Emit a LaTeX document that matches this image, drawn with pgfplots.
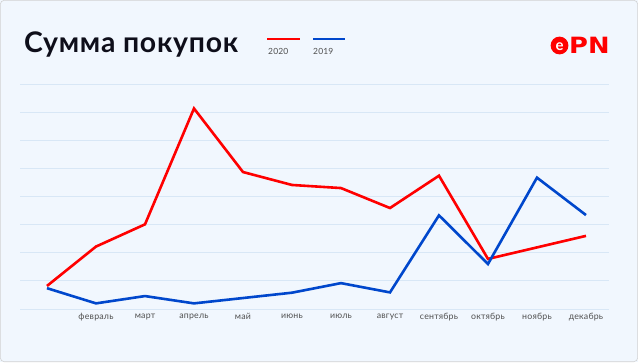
\documentclass[border=0pt]{standalone}
\usepackage{pgfplots}
\pgfplotsset{compat=1.18}
\usepackage{fontspec}
\setmainfont{Lato}
\newfontfamily\logofont{DejaVu Sans}
\definecolor{bg}{HTML}{F1F7FE}
\definecolor{gridc}{HTML}{D8E7F6}
\definecolor{red20}{HTML}{FF0000}
\definecolor{blue19}{HTML}{0047CC}
\definecolor{lbl}{HTML}{505050}
\definecolor{ttl}{HTML}{0E0E1A}
\begin{document}
\begin{tikzpicture}[x=1bp,y=1bp]
\fill[bg] (0,0) rectangle (638,362);
\draw[gray!35, line width=0.6bp, rounded corners=4bp] (0.3,0.3) rectangle (637.7,361.7);
\node[anchor=base west, font=\bfseries\fontsize{28.5}{28.5}\selectfont\addfontfeatures{LetterSpace=2.5}, text=ttl, inner sep=0] at (24,310) {Сумма покупок};
\draw[red20, line width=2.6bp] (267,323) -- (300,323);
\draw[blue19, line width=2.6bp] (313,323) -- (345,323);
\node[anchor=base west, font=\fontsize{8.5}{8.5}\selectfont\addfontfeatures{LetterSpace=2}, text=lbl, inner sep=0] at (268,307.5) {2020};
\node[anchor=base west, font=\fontsize{8.5}{8.5}\selectfont\addfontfeatures{LetterSpace=2}, text=lbl, inner sep=0] at (313,307.5) {2019};
\fill[red20] (559.5,316.5) circle (8.9);
\node[font=\bfseries\fontsize{15}{15}\selectfont, text=white, inner sep=0] at (559.5,315.8) {e};
\node[anchor=base west, font=\logofont\bfseries\fontsize{22.5}{22.5}\selectfont, text=red20, inner sep=0] at (569,309) {\scalebox{1.15}[1]{PN}};
\begin{axis}[
  at={(20bp,53bp)}, anchor=south west,
  scale only axis, width=589bp, height=225bp,
  xmin=-0.551, xmax=11.47, ymin=0, ymax=8,
  ytick={0,...,8}, yticklabels={},
  ymajorgrids, grid style={gridc, line width=0.8bp},
  axis line style={draw=none}, major tick style={draw=none},
  xtick={1,...,11},
  xticklabels={февраль,март,апрель,май,июнь,июль,август,сентябрь,октябрь,ноябрь,декабрь},
  xticklabel style={font=\fontsize{8.8}{8.8}\selectfont\addfontfeatures{LetterSpace=2.5}, text=lbl, yshift=-1bp},
  clip=false,
]
\addplot[red20, line width=2.6bp, mark=none] coordinates {
(0,0.82) (1,2.22) (2,3.01) (3,7.13) (4,4.87) (5,4.41) (6,4.30) (7,3.59) (8,4.74) (9,1.78) (10,2.19) (11,2.60)};
\addplot[blue19, line width=2.6bp, mark=none] coordinates {
(0,0.74) (1,0.20) (2,0.46) (3,0.20) (4,0.39) (5,0.58) (6,0.92) (7,0.59) (8,3.33) (9,1.60) (10,4.67) (11,3.34)};
\end{axis}
\end{tikzpicture}
\end{document}
